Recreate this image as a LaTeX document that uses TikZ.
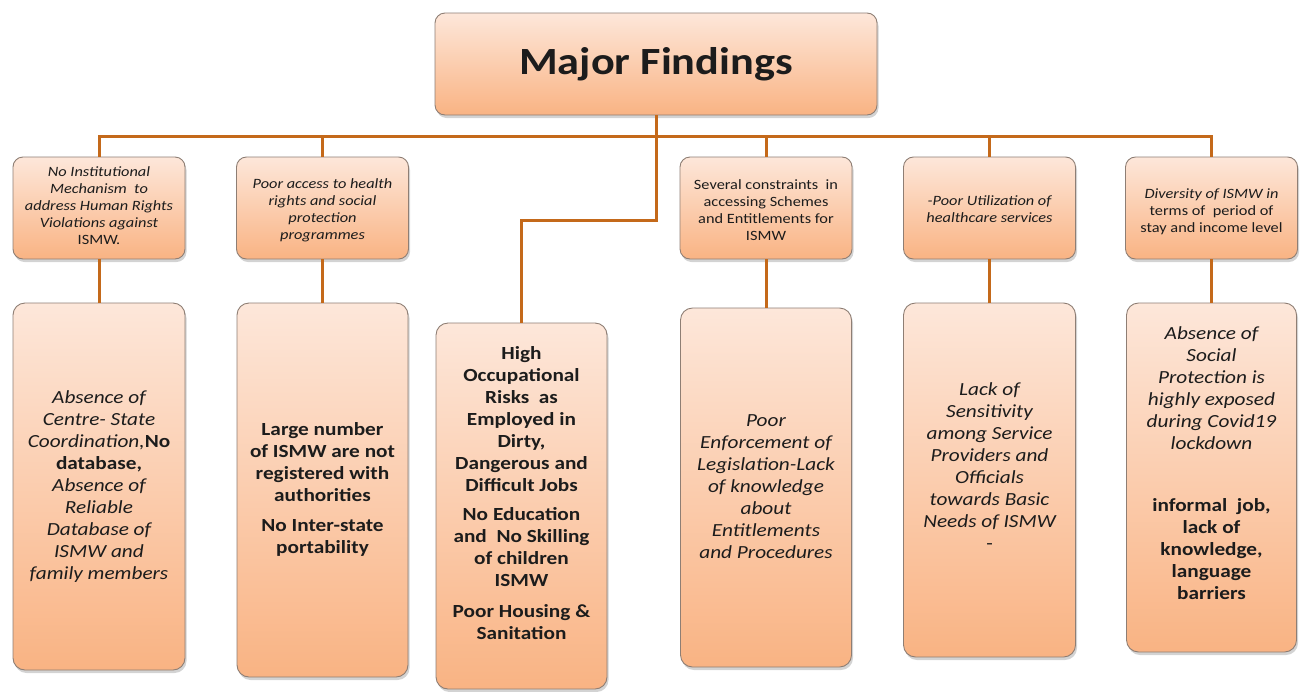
\documentclass[tikz,border=0pt]{standalone}
\usepackage{fontspec}
\setmainfont{Carlito}[FakeStretch=1.15]
\usetikzlibrary{shadows}
\definecolor{peachtop}{HTML}{FDE7DA}
\definecolor{peachbot}{HTML}{F9B383}
\definecolor{linkorange}{HTML}{C4691A}
\definecolor{boxedge}{HTML}{8E7E74}
\definecolor{inktext}{HTML}{1C1C1C}
\tikzset{
  card/.style={draw=boxedge, line width=0.9pt, rounded corners=10pt,
    top color=peachtop, bottom color=peachbot, inner sep=0pt,
    drop shadow={opacity=0.35, shadow xshift=1.5pt, shadow yshift=-3pt}},
  smallcard/.style={card, minimum width=172pt, minimum height=102pt},
  tallcard/.style={card, rounded corners=12pt},
  link/.style={draw=linkorange, line width=3pt},
  smalltxt/.style={align=center, text=inktext, font=\fontsize{14.2}{17}\selectfont},
  smallit/.style={smalltxt, font=\fontsize{14.2}{17}\selectfont\itshape},
  bigtxt/.style={align=center, text=inktext, font=\fontsize{18.5}{22}\selectfont},
  bigit/.style={bigtxt, font=\fontsize{18.5}{22}\selectfont\itshape},
  bigbf/.style={bigtxt, font=\fontsize{18.5}{22}\selectfont\bfseries},
}
\newcommand\upbf[1]{\textup{\textbf{#1}}}
\begin{document}
\begin{tikzpicture}[x=1pt, y=-1pt]
\useasboundingbox (0,0) rectangle (1303,691);

% root
\node[card, minimum width=442pt, minimum height=102pt, text=inktext,
      font=\fontsize{38.5}{44}\selectfont\bfseries] (top) at (656,64) {Major Findings};

% first row of findings
\node[smallcard] (s1) at (99,208) {};
\node[smallcard] (s2) at (322.5,208) {};
\node[smallcard] (s3) at (766,208) {};
\node[smallcard] (s4) at (989.5,208) {};
\node[smallcard] (s5) at (1211.5,208) {};

% detail boxes
\node[tallcard, minimum width=172pt, minimum height=367pt] (t1) at (99,486.5) {};
\node[tallcard, minimum width=171pt, minimum height=374pt] (t2) at (322.5,490) {};
\node[tallcard, minimum width=171pt, minimum height=366pt] (t3) at (521.5,506) {};
\node[tallcard, minimum width=171pt, minimum height=359pt] (t4) at (766,487.5) {};
\node[tallcard, minimum width=172pt, minimum height=354pt] (t5) at (989.5,480) {};
\node[tallcard, minimum width=170pt, minimum height=349pt] (t6) at (1211.5,477.5) {};

% connectors
\coordinate (bar) at (656,136);
\draw[link] (s1.north) |- (bar) -| (s5.north);
\draw[link] (s2.north) -- (s2.north |- bar);
\draw[link] (s3.north) -- (s3.north |- bar);
\draw[link] (s4.north) -- (s4.north |- bar);
\draw[link] (top.south) -- ++(0,105) -| (t3.north);
\draw[link] (s1.south) -- (t1.north);
\draw[link] (s2.south) -- (t2.north);
\draw[link] (s3.south) -- (t4.north);
\draw[link] (s4.south) -- (t5.north);
\draw[link] (s5.south) -- (t6.north);

% first row texts
\node[smallit] (s1txt) at (99,206) {No Institutional\\ Mechanism~ to\\ address Human Rights\\ Violations against\\ \textup{ISMW.}};
\node[smallit] (s2txt) at (322.5,210) {Poor access to health\\ rights and social\\ protection\\ programmes};
\node[smalltxt] (s3txt) at (766,210) {Several constraints~ in\\ accessing Schemes\\ and Entitlements for\\ ISMW};
\node[smallit] (s4txt) at (989.5,209) {-Poor Utilization of\\ healthcare services};
\node[smallit] (s5txt) at (1211.5,211.5) {Diversity of ISMW in\\ \textup{terms of~ period of}\\ \textup{stay and income level}};

% detail texts
\node[bigit] (t1txt) at (99,487) {Absence of\\ Centre- State\\ Coordination,\upbf{No}\\ \upbf{database,}\\ Absence of\\ Reliable\\ Database of\\ ISMW and\\ family members};
\node[bigbf] (t2txt) at (322.5,489) {Large number\\ of ISMW are not\\ registered with\\ authorities\\[8pt] No Inter-state\\ portability};
\node[bigbf] (t3txt) at (521.5,493.5) {High\\ Occupational\\ Risks~ as\\ Employed in\\ Dirty,\\ Dangerous and\\ Difficult Jobs\\[7pt] No Education\\ and~ No Skilling\\ of children\\ ISMW\\[9pt] Poor Housing \&\\ Sanitation};
\node[bigit] (t4txt) at (766,486.5) {Poor\\ Enforcement of\\ Legislation-Lack\\ of knowledge\\ about\\ Entitlements\\ and Procedures};
\node[bigit] (t5txt) at (989.5,466) {Lack of\\ Sensitivity\\ among Service\\ Providers and\\ Officials\\ towards Basic\\ Needs of ISMW\\ \textup{-}};
\node[bigit] (t6txt) at (1211.5,463.5) {Absence of\\ Social\\ Protection is\\ highly exposed\\ during Covid19\\ lockdown\\[40pt] \upbf{informal~ job,}\\ \upbf{lack of}\\ \upbf{knowledge,}\\ \upbf{language}\\ \upbf{barriers}};
\end{tikzpicture}
\end{document}
